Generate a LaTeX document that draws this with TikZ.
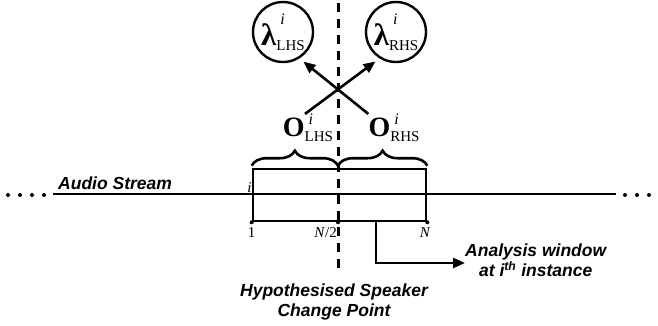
\documentclass[tikz,border=0pt]{standalone}
\usepackage{fontspec}
\setmainfont{Liberation Serif}
\setsansfont{Liberation Sans}
\usetikzlibrary{arrows.meta,positioning,decorations.pathreplacing}

% symbol with superscript i and a side subscript
\newcommand{\statlbl}[4]{#1\rlap{\hspace{#4}\raisebox{#3}{\fontsize{16}{16}\selectfont\mdseries\itshape i}}%
  \raisebox{-5pt}{\fontsize{15}{15}\selectfont\mdseries #2}}

\begin{document}
\begin{tikzpicture}[x=1pt,y=-1pt,
    arr/.style={line width=2.6pt,-{Triangle[length=12pt,width=10pt]}},
    bigsym/.style={inner sep=0pt,font=\fontsize{28}{28}\selectfont\bfseries},
    model/.style={draw,circle,line width=2.4pt,minimum size=60pt,inner sep=0pt,
      font=\fontsize{31}{31}\selectfont\bfseries},
    caption/.style={inner sep=0pt,align=center,
      font=\fontsize{17.5}{20.5}\selectfont\sffamily\bfseries\itshape},
    idx/.style={inner sep=0pt,font=\fontsize{15}{15}\selectfont}]
  \useasboundingbox (0,0) rectangle (658,325);

  % audio stream and analysis window
  \coordinate (streamL) at (53,194);
  \coordinate (streamR) at (616,194);
  \draw[line width=2.6pt] (streamL) -- (streamR);
  \foreach \x in {8,20,32,44,625,637,649,661}
    \fill (\x,195) circle (2pt);
  \node[caption,anchor=base west] (stream) at ([xshift=5pt,yshift=5pt]streamL) {Audio Stream};
  \node[draw,line width=2.6pt,minimum width=173pt,minimum height=52pt,inner sep=0pt] (win) at (339.5,195) {};

  % change point
  \coordinate (cpTop) at (338,3);
  \coordinate (cpBot) at (338,273);
  \draw[line width=3pt,dash pattern=on 9pt off 7pt] (cpTop) -- (cpBot);
  \node[caption] (cpLabel) at (334,302) {Hypothesised Speaker\\Change Point};

  \foreach \p in {win.south west,win.south -| cpTop,win.south east}
    \fill (\p) circle (2pt);
  \node[idx,anchor=south east] (first) at ([yshift=2pt]win.west) {\itshape i};
  \node[idx,below=5pt of win.south west] (one) {1};
  \node[idx,below left=5pt and 1pt of win.south -| cpTop] (half) {\textit{N}/2};
  \node[idx,below=5pt of win.south east,xshift=-2pt] (full) {\textit{N}};

  % halves of the window
  \draw[line width=2.6pt,decorate,decoration={brace,amplitude=15pt}]
    ([yshift=2pt]win.north west) -- ([yshift=2pt]win.north -| cpTop);
  \draw[line width=2.6pt,decorate,decoration={brace,amplitude=15pt}]
    ([yshift=2pt]win.north -| cpTop) -- ([yshift=2pt]win.north east);
  \node[bigsym] (obsL) at (308,128) {\statlbl{O}{LHS}{12pt}{4pt}};
  \node[bigsym] (obsR) at (394,128) {\statlbl{O}{RHS}{12pt}{4pt}};

  % models
  \node[model] (lamL) at (283,32) {\statlbl{λ}{LHS}{21pt}{4pt}};
  \node[model] (lamR) at (396,32) {\statlbl{λ}{RHS}{21pt}{4pt}};
  \draw[arr,shorten >=5pt] ([xshift=-3pt]obsL.north) -- (lamR.238);
  \draw[arr,shorten >=5pt] (obsR.north west) -- (lamL.302);

  % window label
  \node[caption,anchor=west] (anawin) at (465,260) {Analysis window\\at \textit{i}\textsuperscript{th} instance};
  \draw[arr] ([xshift=36.5pt]win.south) |- ([yshift=-3pt]anawin.west);
\end{tikzpicture}
\end{document}
